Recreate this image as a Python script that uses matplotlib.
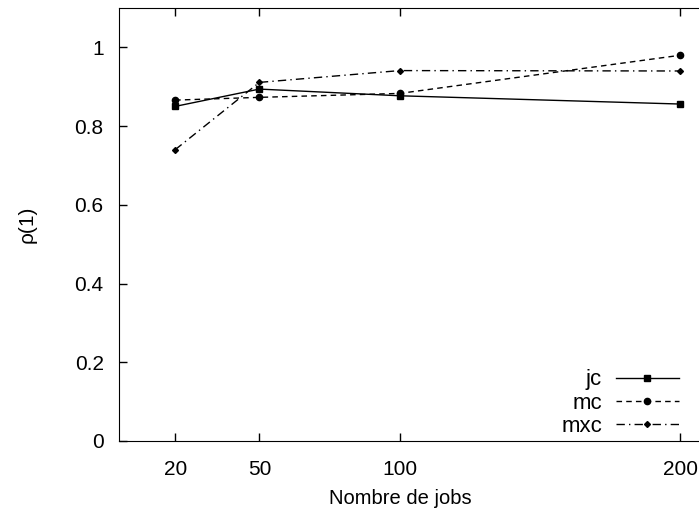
import matplotlib
matplotlib.use("Agg")
import matplotlib.pyplot as plt
from matplotlib.ticker import FormatStrFormatter

plt.rcParams['font.family'] = ['Liberation Sans', 'DejaVu Sans']

# nombre de jobs
jobs = [20, 50, 100, 200]
# rho(1) pour chaque heuristique
jc = [0.850, 0.894, 0.877, 0.856]
mc = [0.866, 0.873, 0.883, 0.980]
mxc = [0.740, 0.911, 0.941, 0.940]

yticks = [0, 0.2, 0.4, 0.6, 0.8, 1]

fig = plt.figure(figsize=(6.99, 5.16), dpi=100)
# l'axe déborde à droite, comme dans l'original
ax = fig.add_axes([119/699, 75/516, 589.5/699, 433/516])

ax.plot(jobs, jc, '-', color='black', lw=1, marker='s', ms=5, label='jc')
ax.plot(jobs, mc, color='black', lw=1, ls=(0, (4, 3)), marker='o', ms=4.5, label='mc')
ax.plot(jobs, mxc, color='black', lw=1, ls=(0, (6, 3, 1, 3)), marker='D', ms=3, label='mxc')

ax.set_xlim(0, 210)
ax.set_ylim(0, 1.1)
ax.set_xticks(jobs)
ax.set_yticks(yticks)
ax.yaxis.set_major_formatter(FormatStrFormatter('%g'))
ax.tick_params(direction='in', length=6, width=1, labelsize=15,
               top=True, right=True)
ax.tick_params(axis='x', pad=14)
ax.tick_params(axis='y', pad=11)

ax.set_xlabel('Nombre de jobs', fontsize=14.5)
ax.xaxis.set_label_coords(0.477, -0.11)
ax.set_ylabel('ρ(1)', fontsize=15)
ax.yaxis.set_label_coords(-0.139, 0.5)

leg = ax.legend(loc='lower right', markerfirst=False, frameon=False,
                fontsize=16, handlelength=2.85, handletextpad=0.6,
                labelspacing=0.1, numpoints=1, borderpad=0,
                bbox_to_anchor=(690/699, 68/516), bbox_transform=fig.transFigure)

fig.savefig('out.png', dpi=100)
